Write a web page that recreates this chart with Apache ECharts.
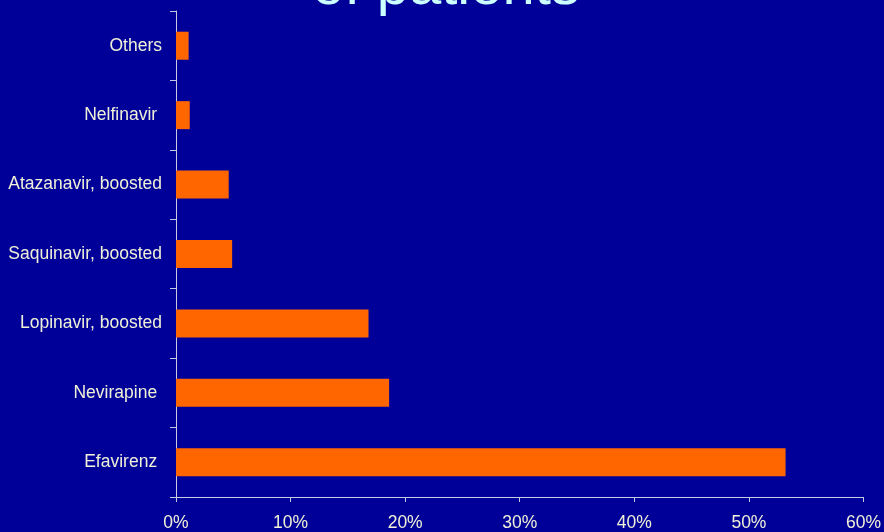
<!DOCTYPE html>
<html>
<head>
<meta charset="utf-8">
<script src="https://cdn.jsdelivr.net/npm/echarts@6/dist/echarts.min.js"></script>
<style>
html,body{margin:0;padding:0;background:#000099;}
#chart{width:884px;height:532px;}
</style>
</head>
<body>
<div id="chart"></div>
<script>
var categories = ['Efavirenz ', 'Nevirapine ', 'Lopinavir, boosted', 'Saquinavir, boosted', 'Atazanavir, boosted', 'Nelfinavir ', 'Others'];
var values = [53.2, 18.6, 16.8, 4.9, 4.6, 1.2, 1.1];
var xTickLabels = ['0%', '10%', '20%', '30%', '40%', '50%', '60%'];
var titleText = 'of patients';

var chart = echarts.init(document.getElementById('chart'));
chart.setOption({
  backgroundColor: '#000099',
  animation: false,
  grid: { left: 176, right: 20, top: 11, bottom: 34, containLabel: false },
  graphic: [{
    type: 'text',
    style: {
      x: 446, y: 17,
      text: titleText,
      fill: '#ccffff',
      font: '58px "Liberation Sans", Arial, sans-serif',
      textAlign: 'center',
      textVerticalAlign: 'bottom'
    }
  }],
  xAxis: {
    type: 'value',
    min: 0, max: 60, interval: 10,
    axisLine: { show: true, lineStyle: { color: '#c8c8e0', width: 1 } },
    axisTick: { show: true, length: 5, inside: false, lineStyle: { color: '#c8c8e0' } },
    splitLine: { show: false },
    axisLabel: {
      color: '#f0f0d8', fontSize: 17.5, fontFamily: '"Liberation Sans", Arial, sans-serif', margin: 17,
      formatter: function (v) { return xTickLabels[Math.round(v / 10)]; }
    }
  },
  yAxis: {
    type: 'category',
    data: categories,
    axisLine: { show: true, lineStyle: { color: '#c8c8e0', width: 1 } },
    axisTick: { show: true, length: 6, lineStyle: { color: '#c8c8e0' } },
    axisLabel: { color: '#f0f0d8', fontSize: 17.5, fontFamily: '"Liberation Sans", Arial, sans-serif', margin: 14 }
  },
  series: [{
    type: 'bar',
    data: values,
    barWidth: 28,
    itemStyle: { color: '#ff6600' }
  }]
});
</script>
</body>
</html>
